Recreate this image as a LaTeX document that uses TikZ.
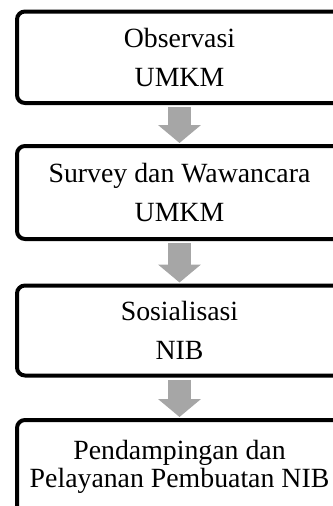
\documentclass[tikz,border=0pt]{standalone}
\usepackage{fontspec}
\setmainfont{Liberation Serif}
\usetikzlibrary{arrows.meta}
\definecolor{flowgray}{RGB}{166,166,166}

\begin{document}
\begin{tikzpicture}[x=1pt, y=-1pt,
   Box/.style = {draw, line width=4pt, rounded corners=8pt, minimum width=325pt,
                 align=center, inner sep=0pt},
   Flow/.style = {draw=flowgray, line width=23pt, -{Triangle[length=18pt, width=42pt]}}]
   \useasboundingbox (0,0) rectangle (332,506);
   \node[Box, minimum height=91.5pt, font=\fontsize{27.8}{39}\selectfont]
      (obs) at (179.5,57.25) {Observasi\\UMKM};
   \node[Box, minimum height=93pt, font=\fontsize{27.8}{39}\selectfont]
      (survey) at (179.5,192.5) {Survey dan Wawancara\\UMKM};
   \node[Box, minimum height=90pt, font=\fontsize{27.8}{39}\selectfont]
      (sosial) at (179.5,330.5) {Sosialisasi\\NIB};
   \node[Box, minimum height=94pt, font=\fontsize{27.8}{27.5}\selectfont]
      (layanan) at (179.5,467) {Pendampingan dan\\Pelayanan Pembuatan NIB};
   \draw[Flow] ([yshift=-2pt]obs.south) -- ([yshift=1pt]survey.north);
   \draw[Flow] ([yshift=-2pt]survey.south) -- ([yshift=1pt]sosial.north);
   \draw[Flow] ([yshift=-2pt]sosial.south) -- ([yshift=1pt]layanan.north);
\end{tikzpicture}
\end{document}
